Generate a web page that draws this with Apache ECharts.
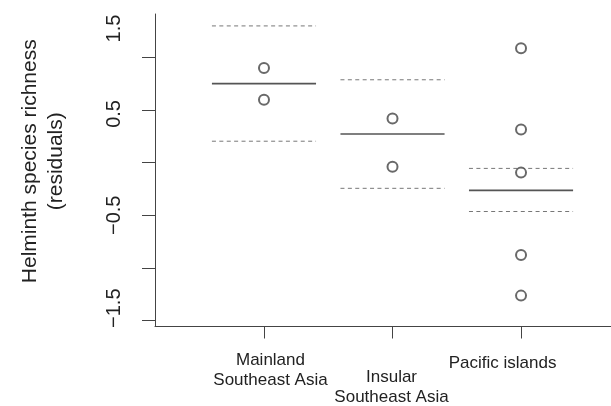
<!DOCTYPE html>
<html>
<head>
<meta charset="utf-8">
<script src="https://cdn.jsdelivr.net/npm/echarts@6/dist/echarts.min.js"></script>
<style>
  html, body { margin: 0; padding: 0; background: #fff; }
  #chart { width: 611px; height: 406px; }
</style>
</head>
<body>
<div id="chart"></div>
<script>
// ---- data ----
const categories = ['Mainland\nSoutheast Asia', 'Insular\nSoutheast Asia', 'Pacific islands'];
const categoryPositions = [1, 2, 3];
const estimates = [0.749, 0.272, -0.263];
const upperCI = [1.297, 0.786, -0.055];
const lowerCI = [0.203, -0.244, -0.464];
const mainlandPoints = [0.897, 0.597];
const insularPoints = [0.418, -0.039];
const pacificPoints = [1.086, 0.314, -0.095, -0.877, -1.262];
const yTickValues = [-1.5, -1, -0.5, 0, 0.5, 1];
const yLabelValues = [-1.5, -0.5, 0.5];
const yTopLabel = '1.5';
const yTitle = 'Helminth species richness\n(residuals)';

const groups = [mainlandPoints, insularPoints, pacificPoints];
const pointData = [];
groups.forEach((arr, i) => arr.forEach(v => pointData.push([categoryPositions[i], v])));
const intervalData = estimates.map((m, i) => [categoryPositions[i], lowerCI[i], m, upperCI[i]]);

const FONT = '"Liberation Sans", Arial, Helvetica, sans-serif';
const halfWidth = 0.405;
const X_MIN = 0.152, X_MAX = 3.70;

const chart = echarts.init(document.getElementById('chart'), null, { renderer: 'canvas' });

function fmtNum(v) {
  const s = Math.abs(v).toFixed(1);
  return (v < 0 ? '\u2212' : '') + s;
}

function catLabel(value) {
  const idx = Math.round(value) - 1;
  const lines = categories[idx].split('\n');
  if (idx === 0) return lines.map(l => '{m|' + l + '}').join('\n');
  if (idx === 1) return '{g| }\n' + lines.map(l => '{i|' + l + '}').join('\n');
  return lines.map(l => '{p|' + l + '}').join('\n');
}

const catRich = {
  m: { fontSize: 17, lineHeight: 20, fontFamily: FONT, color: '#222', padding: [0, 0, 0, 13] },
  i: { fontSize: 17, lineHeight: 20, fontFamily: FONT, color: '#222', padding: [0, 2, 0, 0] },
  p: { fontSize: 17, lineHeight: 25, fontFamily: FONT, color: '#222', padding: [0, 37, 0, 0] },
  g: { fontSize: 1, lineHeight: 17 }
};

const option = {
  animation: false,
  backgroundColor: '#fff',
  grid: { left: 155, right: 0, top: 14, bottom: 78.5, containLabel: false },
  xAxis: [
    {
      type: 'value',
      position: 'bottom',
      min: X_MIN,
      max: X_MAX,
      axisLine: { show: true, onZero: false, lineStyle: { color: '#444', width: 1 } },
      axisTick: { show: true, length: 12, lineStyle: { color: '#444', width: 1 }, customValues: categoryPositions },
      splitLine: { show: false },
      axisLabel: {
        show: true,
        margin: 24,
        customValues: categoryPositions.slice(0, 2),
        showMinLabel: true,
        showMaxLabel: true,
        color: '#222',
        fontFamily: FONT,
        fontSize: 17,
        formatter: catLabel,
        rich: catRich
      }
    },
    {
      type: 'value',
      position: 'bottom',
      offset: 0,
      min: X_MIN,
      max: X_MAX,
      axisLine: { show: false, onZero: false },
      axisTick: { show: false },
      splitLine: { show: false },
      axisLabel: {
        show: true,
        margin: 24,
        customValues: categoryPositions.slice(2),
        showMinLabel: true,
        showMaxLabel: true,
        color: '#222',
        fontFamily: FONT,
        fontSize: 17,
        formatter: catLabel,
        rich: catRich
      }
    }
  ],
  yAxis: {
    type: 'value',
    min: -1.555,
    max: 1.41,
    name: yTitle,
    nameLocation: 'middle',
    nameRotate: 90,
    nameGap: 86,
    nameTextStyle: { fontFamily: FONT, fontSize: 21, lineHeight: 26, color: '#222', padding: [0, 0, 0, 18] },
    axisLine: { show: true, onZero: false, lineStyle: { color: '#444', width: 1 } },
    axisTick: { show: true, length: 13, lineStyle: { color: '#444', width: 1 }, customValues: yTickValues },
    splitLine: { show: false },
    axisLabel: {
      show: true,
      rotate: 90,
      margin: 31,
      customValues: yLabelValues,
      showMinLabel: true,
      showMaxLabel: true,
      color: '#222',
      fontFamily: FONT,
      fontSize: 20,
      formatter: function (value) {
        const t = fmtNum(value);
        if (value < -1) return '{u|' + t + '}';
        if (value > 0) return '{d|' + t + '}';
        return '{n|' + t + '}';
      },
      rich: {
        n: { fontSize: 20, fontFamily: FONT, color: '#222' },
        u: { fontSize: 20, fontFamily: FONT, color: '#222', padding: [0, 0, 0, 25] },
        d: { fontSize: 20, fontFamily: FONT, color: '#222', padding: [0, 8, 0, 0] }
      }
    }
  },
  graphic: [{
    type: 'text',
    x: 124,
    y: 28.5,
    rotation: Math.PI / 2,
    silent: true,
    style: {
      text: yTopLabel,
      font: '20px ' + FONT,
      fill: '#222',
      align: 'center',
      verticalAlign: 'bottom'
    }
  }],
  series: [
    {
      type: 'custom',
      xAxisIndex: 0,
      data: intervalData,
      encode: { x: 0, y: [1, 2, 3] },
      renderItem: function (params, api) {
        const x = api.value(0);
        const mk = (val, dashed) => {
          const p1 = api.coord([x - halfWidth, val]);
          const p2 = api.coord([x + halfWidth, val]);
          return {
            type: 'line',
            shape: { x1: p1[0], y1: p1[1], x2: p2[0], y2: p2[1] },
            style: dashed
              ? { stroke: '#777', lineWidth: 1, lineDash: [4, 3.4] }
              : { stroke: '#555', lineWidth: 1.6 }
          };
        };
        return {
          type: 'group',
          children: [mk(api.value(1), true), mk(api.value(3), true), mk(api.value(2), false)]
        };
      },
      z: 2
    },
    {
      type: 'scatter',
      xAxisIndex: 0,
      data: pointData,
      symbol: 'emptyCircle',
      symbolSize: 10,
      itemStyle: { color: '#444', borderColor: '#444', borderWidth: 1.1 },
      z: 3
    }
  ]
};

chart.setOption(option);
</script>
</body>
</html>
